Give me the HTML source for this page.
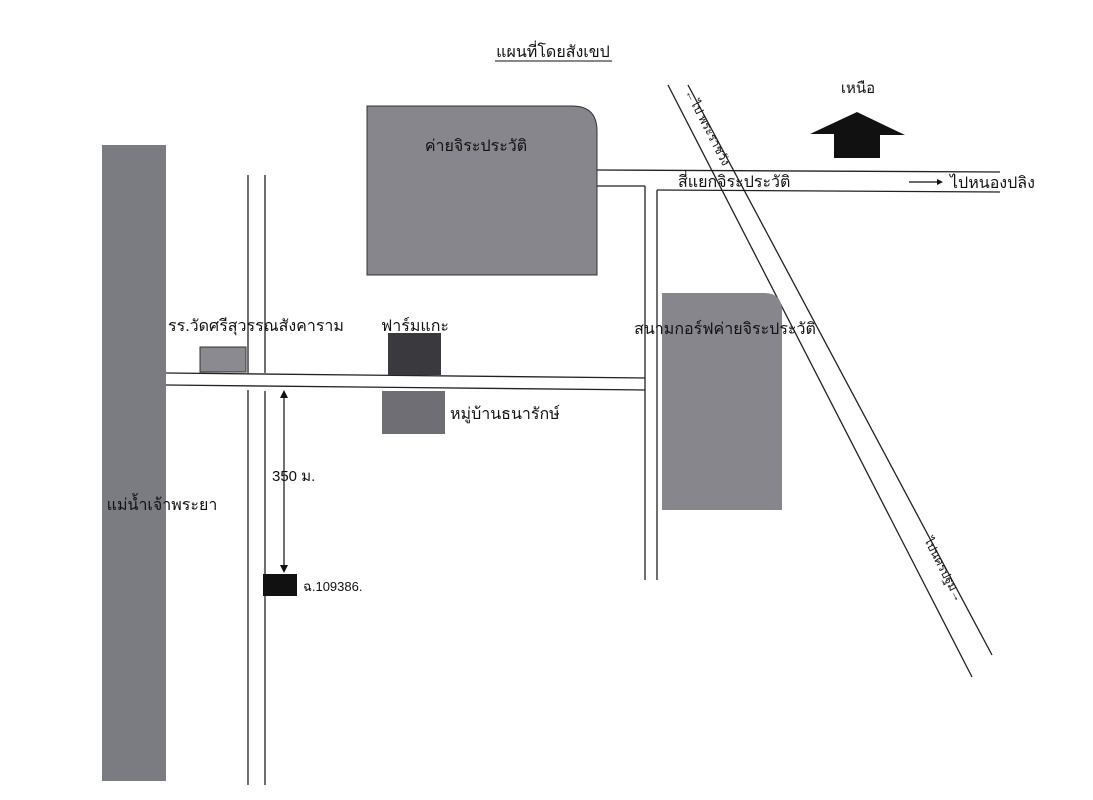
<!DOCTYPE html>
<html><head><meta charset="utf-8"><style>
html,body{margin:0;padding:0;background:#fff;}
svg{display:block;font-family:"Liberation Sans","Noto Sans CJK SC","WenQuanYi Zen Hei",sans-serif;}
</style></head><body>
<svg width="1093" height="800" viewBox="0 0 1093 800" xmlns="http://www.w3.org/2000/svg">
<rect width="1093" height="800" fill="#fff"/>
<text x="553" y="57" font-size="16" text-anchor="middle" fill="#111">แผนที่โดยสังเขป</text>
<line x1="495" y1="61" x2="612" y2="61" stroke="#111" stroke-width="1"/>
<rect x="102" y="145" width="64" height="636" fill="#7b7b82"/>
<text x="162" y="510" font-size="16" text-anchor="middle" fill="#111">แม่น้ำเจ้าพระยา</text>
<g stroke="#222" stroke-width="1.3" fill="none">
<line x1="248" y1="175" x2="248" y2="373"/><line x1="248" y1="390" x2="248" y2="785"/>
<line x1="265" y1="175" x2="265" y2="373"/><line x1="265" y1="391" x2="265" y2="785"/>
<line x1="166" y1="373" x2="645" y2="378"/>
<line x1="166" y1="385" x2="645" y2="390"/>
<line x1="597" y1="170" x2="1000" y2="172"/>
<line x1="597" y1="186" x2="645" y2="186"/>
<line x1="657" y1="190" x2="1000" y2="192"/>
<line x1="645" y1="186" x2="645" y2="580"/>
<line x1="657" y1="190" x2="657" y2="580"/>
<line x1="668" y1="85" x2="972" y2="677"/>
<line x1="688" y1="85" x2="992" y2="655"/>
</g>
<path d="M367 106 H572 Q597 106 597 131 V275 H367 Z" fill="#86868c" stroke="#333" stroke-width="1"/>
<text x="476" y="151" font-size="16" text-anchor="middle" fill="#111">ค่ายจิระประวัติ</text>
<path d="M662 293 H764 Q782 293 782 311 V510 H662 Z" fill="#86868c"/>
<text x="725" y="334" font-size="16" text-anchor="middle" fill="#111">สนามกอร์ฟค่ายจิระประวัติ</text>
<rect x="200" y="347" width="46" height="25" fill="#8a8a90" stroke="#333" stroke-width="1"/>
<text x="256" y="331" font-size="16" text-anchor="middle" fill="#111">รร.วัดศรีสุวรรณสังคาราม</text>
<rect x="388" y="333" width="53" height="42" fill="#3a3a3e"/>
<text x="415" y="331" font-size="16" text-anchor="middle" fill="#111">ฟาร์มแกะ</text>
<rect x="382" y="391" width="63" height="43" fill="#6e6e74"/>
<text x="450" y="419" font-size="16" fill="#111">หมู่บ้านธนารักษ์</text>
<line x1="284" y1="395" x2="284" y2="568" stroke="#111" stroke-width="1.2"/>
<path d="M280 398 L284 390 L288 398 Z" fill="#111"/>
<path d="M280 565 L284 573 L288 565 Z" fill="#111"/>
<text x="272" y="481" font-size="15" fill="#111">350 ม.</text>
<rect x="263" y="574" width="34" height="22" fill="#111"/>
<text x="303" y="591" font-size="13" fill="#111">ฉ.109386.</text>
<text x="858" y="93" font-size="15" text-anchor="middle" fill="#111">เหนือ</text>
<path d="M810 134 L857 112 L905 135 L880 135 L880 158 L834 158 L834 134 Z" fill="#111"/>
<text x="678" y="187" font-size="16" fill="#111">สี่แยกจิระประวัติ</text>
<line x1="909" y1="182" x2="937" y2="182" stroke="#111" stroke-width="1.2"/>
<path d="M937 179 L943 182 L937 185 Z" fill="#111"/>
<text x="950" y="188" font-size="16" fill="#111">ไปหนองปลิง</text>
<text x="0" y="0" font-size="12" fill="#111" transform="translate(685,92) rotate(63)">←ไป พระราชวัง</text>
<text x="0" y="0" font-size="12" fill="#111" transform="translate(924,540) rotate(63)">ไปนครปฐม→</text>
</svg>
</body></html>
